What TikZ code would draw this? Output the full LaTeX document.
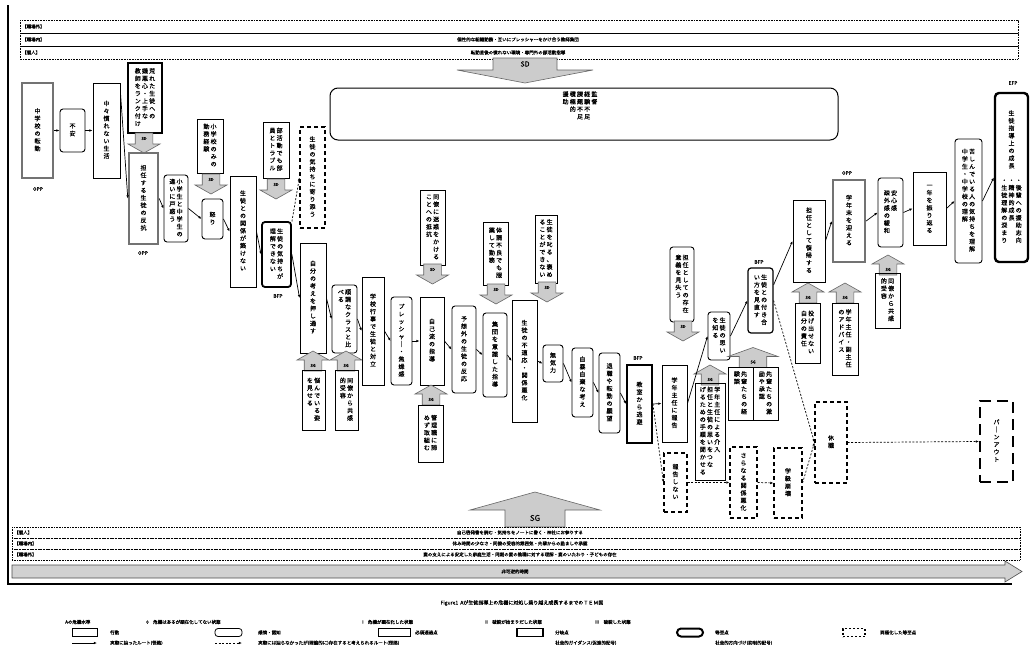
\documentclass[tikz,border=0pt]{standalone}
\usepackage{fontspec}
\setmainfont{Noto Sans CJK JP}[FakeBold=0.5]
\usetikzlibrary{arrows.meta}

% vertical column of characters
\makeatletter
\newcommand\tcol[1]{%
  \gdef\tc@acc{}\gdef\tc@sep{}%
  \@tfor\tc@x:=#1\do{%
    \xdef\tc@acc{\unexpanded\expandafter{\tc@acc}\unexpanded\expandafter{\tc@sep}\unexpanded\expandafter{\tc@x}}%
    \gdef\tc@sep{\\}}%
  \begin{tabular}[t]{@{}c@{}}\tc@acc\end{tabular}}
\makeatother
\newcommand\vtwo[2]{\tcol{#2}\hspace{1.2pt}\tcol{#1}}
\newcommand\vthree[3]{\tcol{#3}\hspace{1.2pt}\tcol{#2}\hspace{1.2pt}\tcol{#1}}

\tikzset{
  pics/sdarrow/.style={code={
    \draw[garrow] (-0.55*#1,-10) -- (0.55*#1,-10) -- (0.55*#1,1) -- (#1,1) -- (0,10) -- (-#1,1) -- (-0.55*#1,1) -- cycle;
    \node[gtag] (-t) at (0,-4.5) {SD};}},
  pics/sdarrow/.default=16,
  pics/sgarrow/.style={code={
    \draw[garrow] (-0.55*#1,10) -- (0.55*#1,10) -- (0.55*#1,-1) -- (#1,-1) -- (0,-10) -- (-#1,-1) -- (-0.55*#1,-1) -- cycle;
    \node[gtag] (-t) at (0,4.5) {SG};}},
  pics/sgarrow/.default=16,
}

\begin{document}
\begin{tikzpicture}[x=1pt,y=-1pt,
  base/.style={inner sep=0pt, font=\fontsize{6}{7.5}\selectfont},
  sz/.style 2 args={minimum width=#1pt, minimum height=#2pt},
  act/.style={base, draw, line width=0.9pt},
  cog/.style={act, rounded corners=3pt},
  opp/.style={base, draw=black!55, line width=2.4pt},
  bfp/.style={base, draw, line width=1.8pt},
  efp/.style={base, draw, line width=2.4pt, rounded corners=4pt},
  alt/.style={base, draw, line width=1.1pt, dash pattern=on 4pt off 3pt},
  pefp/.style={base, draw, line width=2pt, dash pattern=on 11pt off 6pt},
  tag/.style={font=\fontsize{5}{5}\selectfont, inner sep=0pt},
  route/.style={-{Latex[length=3.2pt,width=2.6pt]}, line width=0.7pt},
  noroute/.style={route, dash pattern=on 2pt off 1.6pt},
  garrow/.style={fill=black!20, draw=black!60, line width=0.6pt},
  gtag/.style={font=\fontsize{4}{4}\selectfont, inner sep=0pt},
  band/.style={draw, line width=0.5pt, dash pattern=on 0.8pt off 0.8pt},
  btxt/.style={font=\fontsize{4.5}{5}\selectfont, inner sep=0pt},
]
\useasboundingbox (0,0) rectangle (1034,645);

% frame
\draw[line width=1.2pt] (8,5) -- (8,584) -- (1012,584);

% top bands
\draw[band] (20,20) rectangle (1018,33);
\draw[band] (20,33) rectangle (1018,46);
\draw[band] (20,46) rectangle (1018,59);
\node[btxt, anchor=west] (tl1) at (22,26.5) {【職場外】};
\node[btxt, anchor=west] (tl2) at (22,39.5) {【職場内】};
\node[btxt, anchor=west] (tl3) at (22,52.5) {【個人】};
\node[btxt] (tt2) at (518,39.5) {個性的な組織勤務・互いにプレッシャーをかけ合う教師集団};
\node[btxt] (tt3) at (518,52.5) {転勤直後の慣れない環境・専門外の部活動指導};

% big SD
\draw[garrow] (493,58) -- (557,58) -- (557,70) -- (593,70) -- (525,83) -- (457,70) -- (493,70) -- cycle;
\node[font=\fontsize{7}{7}\selectfont, inner sep=0pt] (sdbig) at (525,64) {SD};
\node[cog, line width=1pt, rounded corners=8pt, sz={508}{52}] (bx) at (584,114) {};
\node[base, anchor=north] (bxt) at (580,91) {\tcol{援助}\hspace{1.2pt}\tcol{積極的}\hspace{1.2pt}\tcol{課題不足}\hspace{1.2pt}\tcol{経験不足}\hspace{1.2pt}\tcol{監督}};

% main path
\node[opp, sz={31}{95}] (b1) at (37.5,130.5) {\tcol{中学校の転勤}};
\node[tag] (b1t) at (38,189) {OPP};
\node[cog, sz={25}{43}] (b2) at (72.5,130.5) {\tcol{不安}};
\node[act, sz={27}{95}] (b3) at (106.5,130.5) {\tcol{中々慣れない生活}};
\node[act, line width=1.8pt, sz={34}{70}] (b4) at (145,98) {\vthree{荒れた生徒への}{嫌悪心・上手な}{教師をランク付け}};
\pic (sd1) at (144,143) {sdarrow};
\node[opp, sz={29}{91}] (b5) at (143.5,198.5) {\tcol{担任する生徒の反抗}};
\node[tag] (b5t) at (143,253) {OPP};
\node[cog, sz={24}{67}] (b6) at (176,208.5) {\vtwo{小学生と中学生の}{違いに戸惑う}};
\node[act, sz={26}{54}] (b7) at (210,146) {\vtwo{小学校のみの}{勤務経験}};
\pic (sd2) at (211,184) {sdarrow};
\node[cog, sz={21}{40}] (b8) at (212.5,219) {\tcol{怒り}};
\node[act, sz={26}{111}] (b9) at (243,231.5) {\tcol{生徒との関係が築けない}};
\node[act, sz={26}{56}] (b10) at (276,150) {\vtwo{部活動でも部}{員とトラブル}};
\pic (sd3) at (276,189) {sdarrow};
\node[bfp, rounded corners=3pt, sz={29}{65}] (b11) at (276.5,254.5) {\vtwo{生徒の気持ちが}{理解できない}};
\node[tag] (b11t) at (278,296) {BFP};
\node[alt, sz={25}{101}] (b12) at (312.5,177.5) {\tcol{生徒の気持ちに寄り添う}};
\node[act, sz={26}{110}] (b13) at (313,298) {\tcol{自分の考えを押し通す}};
\node[cog, sz={25}{68}] (b14) at (344.5,319) {\vtwo{順調なクラスと比}{べる}};
\pic (sg1) at (313,361) {sgarrow};
\node[act, sz={23}{60}] (b15) at (313.5,400) {\vtwo{悩んでいる姿}{を見せる}};
\pic (sg2) at (346,361) {sgarrow};
\node[act, sz={23}{60}] (b16) at (346.5,400) {\vtwo{同僚から共感}{的受容}};
\node[act, sz={22}{108}] (b17) at (373,331) {\tcol{学校行事で生徒と対立}};
\node[cog, sz={21}{88}] (b18) at (401.5,341) {\tcol{プレッシャ｜・焦燥感}};
\node[act, sz={24}{88}] (b19) at (432,341) {\tcol{自己流の指導}};
\node[act, sz={25}{75}] (b20) at (432.5,227.5) {\vtwo{同僚に迷惑をかける}{ことへの抵抗}};
\pic (sd4) at (432.5,274) {sdarrow};
\pic (sg3) at (431,395) {sgarrow};
\node[act, sz={25}{57}] (b21) at (430.5,433.5) {\vtwo{管理職に諦}{めず取組む}};
\node[cog, sz={24}{87}] (b22) at (464,349.5) {\tcol{予想外の生徒の反応}};
\node[cog, sz={24}{84}] (b23) at (495,355) {\tcol{集団を意識した指導}};
\node[act, sz={25}{63}] (b24) at (495.5,253.5) {\vtwo{体調不良でも服}{薬して勤務}};
\pic (sd5) at (496,294) {sdarrow};
\node[act, sz={25}{122}] (b25) at (524.5,361) {\tcol{生徒の不適応・関係悪化}};
\node[act, sz={22}{68}] (b26) at (546,249) {\vtwo{生徒を叱る、褒め}{ることができない}};
\pic (sd6) at (547,292) {sdarrow};
\node[cog, sz={20}{37}] (b27) at (553,363.5) {\tcol{無気力}};
\node[cog, sz={21}{69}] (b28) at (582.5,382.5) {\tcol{自暴自棄な考え}};
\node[cog, sz={21}{80}] (b29) at (609.5,393) {\tcol{退職や転勤の願望}};
\node[bfp, sz={25}{78}] (b30) at (639.5,404) {\tcol{教室から逃避}};
\node[tag] (b30t) at (638,358) {BFP};
\node[act, sz={25}{77}] (b31) at (674.5,403.5) {\tcol{学年主任に報告}};
\node[cog, sz={24}{75}] (b32) at (682,284.5) {\vtwo{担任としての存在}{意義を見失う}};
\pic (sd7) at (683,331) {sdarrow};
\node[cog, sz={22}{48}] (b33) at (719,336) {\vtwo{生徒の思い}{を知る}};
\node[cog, line width=1.2pt, sz={25}{65}] (b34) at (760.5,300.5) {\vtwo{生徒との付き合}{い方を見直す}};
\node[tag] (b34t) at (759,262) {BFP};
\pic (sg4) at (710,375) {sgarrow};
\node[act, sz={30}{97}] (b35) at (710,431.5) {\vthree{学年主任による介入}{担任と生徒の思いをつな}{げるための手順を聞かせる}};
\pic (sg5) at (753,357.5) {sgarrow=25};
\node[act, sz={25}{53}] (b36) at (740.5,393.5) {\vtwo{先輩たちの経}{験談}};
\node[act, sz={25}{53}] (b37) at (765.5,393.5) {\vtwo{先輩たちの激}{励や承認}};
\node[act, sz={32}{82}] (b38) at (809,241) {\tcol{担任として復帰する}};
\pic (sg6) at (808,293) {sgarrow};
\node[act, sz={25}{60}] (b39) at (807.5,333) {\vtwo{投げ出せない}{自分の責任}};
\pic (sg7) at (845,293) {sgarrow};
\node[act, sz={26}{72}] (b40) at (845,339) {\vtwo{学年主任・副主任}{のアドバイス}};
\node[opp, sz={32}{82}] (b41) at (849,221) {\tcol{学年末を迎える}};
\node[tag] (b41t) at (847,173) {OPP};
\node[cog, sz={25}{69}] (b42) at (890.5,212.5) {\vtwo{安心感}{疎外感の緩和}};
\pic (sg8) at (888,265) {sgarrow};
\node[act, sz={25}{55}] (b43) at (887.5,300.5) {\vtwo{同僚から共感}{的受容}};
\node[act, sz={33}{73}] (b44) at (929.5,208.5) {\tcol{一年を振り返る}};
\node[cog, sz={27}{124}] (b45) at (968.5,201) {\vtwo{苦しんでいる人の気持ちを理解}{中学生・中学校の理解}};
\node[efp, align=center, sz={33}{169}] (b46) at (1011.5,177.5) {\tcol{生徒指導上の成長}\\[6pt]\vthree{・後輩への援助志向}{・精神的成長}{・生徒理解の深まり}};
\node[tag] (b46t) at (1013,83) {EFP};

% paths not taken
\node[alt, sz={23}{59}] (d1) at (675.5,482.5) {\tcol{報告しない}};
\node[alt, sz={27}{71}] (d2) at (743.5,482.5) {\tcol{さらなる関係悪化}};
\node[alt, sz={28}{70}] (d3) at (788,483) {\tcol{学級崩壊}};
\node[alt, sz={32}{81}] (d4) at (831,442.5) {\tcol{休職}};
\node[pefp, sz={33}{81}] (d5) at (996.5,441.5) {\tcol{バ｜ンアウト}};

% routes
\draw[route] (b1) -- (b2);
\draw[route] (b2) -- (b3);
\draw[route] (b3.70) -- (b5.west);
\draw[route] (b5.east) -- (b6.west);
\draw[route] (b6.east) -- (b8.west);
\draw[route] (b8.east) -- (b9.west);
\draw[route] (b9.east) -- (b11.west);
\draw[route] (b11.east) -- (b13.west);
\draw[noroute] (b11.65) -- (b12.west);
\draw[route] (b13.east) -- (b14.west);
\draw[route] (b14.east) -- (b17.west);
\draw[route] (b17.east) -- (b18.west);
\draw[route] (b18.east) -- (b19.west);
\draw[route] (b19.east) -- (b22.west);
\draw[route] (b22.east) -- (b23.west);
\draw[route] (b23.east) -- (b25.west);
\draw[route] (b25.east) -- (b27.west);
\draw[route] (b27.east) -- (b28.west);
\draw[route] (b28.east) -- (b29.west);
\draw[route] (b29.east) -- (b30.west);
\draw[route] (b30.east) -- (b31.west);
\draw[route] (b31.east) -- (b33.west);
\draw[route] (b33.east) -- (b34.west);
\draw[route] (b34.50) -- (b38.west);
\draw[route] (b38.east) -- (b41.west);
\draw[route] (b41.east) -- (b42.west);
\draw[route] (b42.east) -- (b44.west);
\draw[route] (b44.east) -- (b45.west);
\draw[route] (b45.east) -- (b46.west);
\draw[noroute] (b30.east) -- (d1.west);
\draw[noroute] (d1.east) -- (d2.west);
\draw[noroute] (d2.east) -- (d3.west);
\draw[noroute] (d3.east) -- (d4.west);
\draw[noroute] (b34.east) -- (d4.west);
\draw[noroute] (d4.east) -- (d5.west);

% big SG
\draw[garrow] (505,527) -- (565,527) -- (565,510) -- (600,510) -- (535,492) -- (470,510) -- (505,510) -- cycle;
\node[font=\fontsize{8}{8}\selectfont, inner sep=0pt] (sgbig) at (535,518) {SG};

% bottom bands
\draw[band] (12,527) rectangle (1020,538);
\draw[band] (12,538) rectangle (1020,549);
\draw[band] (12,549) rectangle (1020,560);
\node[btxt, anchor=west] (bl1) at (14,532.5) {【個人】};
\node[btxt, anchor=west] (bl2) at (14,543.5) {【職場内】};
\node[btxt, anchor=west] (bl3) at (14,554.5) {【職場外】};
\node[btxt] (bt1) at (520,532.5) {自己啓発書を読む・気持ちをノートに書く・神社にお参りする};
\node[btxt] (bt2) at (520,543.5) {休み時間の少なさ・同僚の受容的雰囲気・先輩からの励ましや承認};
\node[btxt] (bt3) at (520,554.5) {妻の支えによる安定した家庭生活・同期の妻の教職に対する理解・妻のいたわり・子どもの存在};

% irreversible time
\draw[fill=black!18, draw=black!70, line width=0.6pt] (12,565) -- (1005,565) -- (1005,561) -- (1022,571.5) -- (1005,582) -- (1005,578) -- (12,578) -- cycle;
\node[btxt] (tm) at (515,571.5) {非可逆的時間};

% caption
\node[font=\fontsize{5}{5}\selectfont, inner sep=0pt] (cap) at (522,603) {Figure1\ \ Aが生徒指導上の危機に対処し乗り越え成長するまでのＴＥＭ図};

% legend
\node[btxt, anchor=west] (lg1) at (65,622) {Aの危機水準};
\node[btxt, anchor=west] (lg2) at (146,622) {0\quad 危機はあるが顕在化してない状態};
\node[btxt, anchor=west] (lg3) at (362,622) {I\quad 危機が顕在化した状態};
\node[btxt, anchor=west] (lg4) at (485,622) {II\quad 破綻が始まりだした状態};
\node[btxt, anchor=west] (lg5) at (595,622) {III\quad 破綻した状態};
\node[act, line width=0.8pt, sz={25}{8}] (lk1) at (84.5,632.5) {};
\node[btxt, anchor=west] (lt1) at (110,632.5) {行動};
\node[cog, line width=0.8pt, sz={27}{8}] (lk2) at (228.5,632.5) {};
\node[btxt, anchor=west] (lt2) at (258,632.5) {感情・認知};
\node[act, line width=0.8pt, sz={32}{8}] (lk3) at (394,632.5) {};
\node[btxt, anchor=west] (lt3) at (415,632.5) {必須通過点};
\node[bfp, line width=1.4pt, sz={26}{8}] (lk4) at (530,632.5) {};
\node[btxt, anchor=west] (lt4) at (555,632.5) {分岐点};
\node[efp, line width=2pt, sz={26}{8}] (lk5) at (690,632.5) {};
\node[btxt, anchor=west] (lt5) at (715,632.5) {等至点};
\node[pefp, line width=1.4pt, dash pattern=on 2pt off 2pt, sz={22}{8}] (lk6) at (854,632.5) {};
\node[btxt, anchor=west] (lt6) at (880,632.5) {両極化した等至点};
\coordinate (la1) at (72,643);
\coordinate (la2) at (97,643);
\draw[route] (la1) -- (la2);
\node[btxt, anchor=west] (lt7) at (110,643) {実際に辿ったルート(径路)};
\coordinate (la3) at (215,643);
\coordinate (la4) at (242,643);
\draw[noroute] (la3) -- (la4);
\node[btxt, anchor=west] (lt8) at (258,643) {実際には辿らなかったが(理論的に)存在すると考えられるルート(径路)};
\node[btxt, anchor=west] (lt9) at (555,643) {社会的ガイダンス(促進的記号)};
\node[btxt, anchor=west] (lt10) at (715,643) {社会的方向づけ(抑制的記号)};
\end{tikzpicture}
\end{document}
